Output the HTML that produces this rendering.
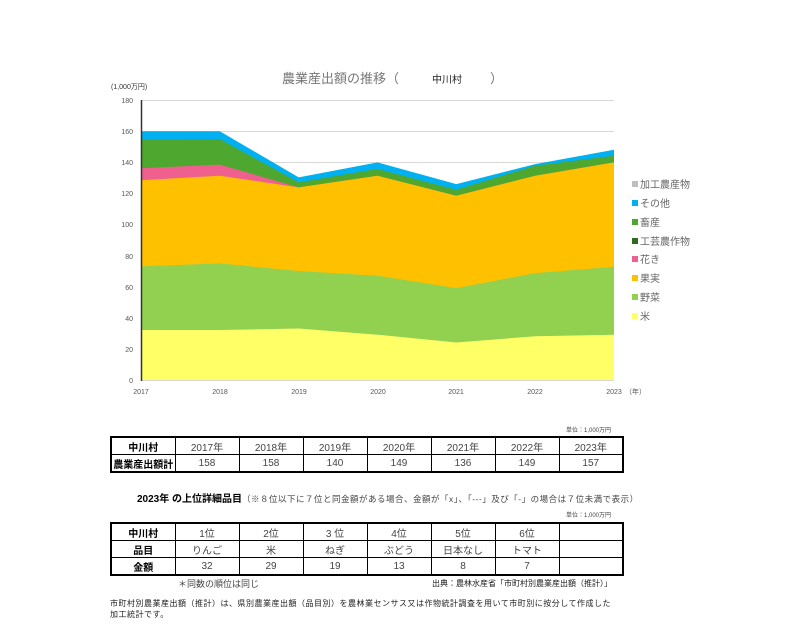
<!DOCTYPE html>
<html><head><meta charset="utf-8"><style>
body{margin:0;background:#fff;font-family:"Liberation Sans","Noto Sans CJK JP",sans-serif;}
.wrap{position:relative;width:794px;height:635px;overflow:hidden;}
.t{position:absolute;white-space:nowrap;color:#000;}
table{position:absolute;border-collapse:collapse;font-size:10px;table-layout:fixed;}
td{border:1px solid #000;text-align:center;height:16px;padding:0;color:#444;overflow:hidden;}
td.h{font-weight:bold;color:#000;}
table.o{border:2px solid #000;}
</style></head><body><div class="wrap">
<svg width="794" height="635" style="position:absolute;left:0;top:0" font-family="Liberation Sans, Noto Sans CJK JP, sans-serif">
<g stroke="#d9d9d9" stroke-width="1">
<line x1="141" x2="614" y1="100.5" y2="100.5"/><line x1="141" x2="614" y1="131.5" y2="131.5"/>
<line x1="141" x2="614" y1="162.5" y2="162.5"/><line x1="141" x2="614" y1="193.5" y2="193.5"/>
<line x1="141" x2="614" y1="224.5" y2="224.5"/><line x1="141" x2="614" y1="256.5" y2="256.5"/>
<line x1="141" x2="614" y1="287.5" y2="287.5"/><line x1="141" x2="614" y1="318.5" y2="318.5"/>
<line x1="141" x2="614" y1="349.5" y2="349.5"/><line x1="141" x2="614" y1="380.5" y2="380.5"/>
</g>
<polygon fill="#00B0F0" points="141,131.3 219.8,131.3 298.7,177.4 377.5,162.4 456.3,184.1 535.2,164.1 614,149.8 614,380 141,380"/>
<polygon fill="#4EA72E" points="141,139.6 219.8,139 298.7,182.4 377.5,168.9 456.3,189.7 535.2,165.7 614,155.7 614,380 141,380"/>
<polygon fill="#F0608F" points="141,168.3 219.8,164.6 298.7,187.4 377.5,175.7 456.3,195.8 535.2,175.7 614,162.4 614,380 141,380"/>
<polygon fill="#FFC000" points="141,180.2 219.8,175.7 298.7,187.4 377.5,175.7 456.3,195.8 535.2,175.7 614,162.4 614,380 141,380"/>
<polygon fill="#92D050" points="141,266.4 219.8,263.4 298.7,271 377.5,275.7 456.3,288.1 535.2,273.1 614,266.7 614,380 141,380"/>
<polygon fill="#FFFF66" points="141,330 219.8,330 298.7,328.5 377.5,334.7 456.3,342.5 535.2,336.3 614,334.7 614,380 141,380"/>
<line x1="141.5" y1="100" x2="141.5" y2="381" stroke="#333" stroke-width="1.5"/>
<g font-size="7" fill="#555" text-anchor="end">
<text x="133" y="103">180</text><text x="133" y="134">160</text><text x="133" y="165">140</text>
<text x="133" y="196">120</text><text x="133" y="227">100</text><text x="133" y="259">80</text>
<text x="133" y="290">60</text><text x="133" y="321">40</text><text x="133" y="352">20</text><text x="133" y="383">0</text>
</g>
<g font-size="7" fill="#555" text-anchor="middle">
<text x="141" y="394">2017</text><text x="220" y="394">2018</text><text x="299" y="394">2019</text>
<text x="378" y="394">2020</text><text x="456" y="394">2021</text><text x="535" y="394">2022</text><text x="614" y="394">2023</text>
</g>
<text x="625" y="394" font-size="7" fill="#555">（年）</text>
<text x="111" y="89" font-size="7" fill="#333">(1,000万円)</text>
<text x="282" y="83" font-size="13" fill="#777">農業産出額の推移（</text>
<text x="432" y="83" font-size="10" fill="#222">中川村</text>
<text x="490" y="83" font-size="13" fill="#777">）</text>
<g font-size="10" fill="#666">
<rect x="632" y="181" width="6" height="6" fill="#BFBFBF"/><text x="640" y="188">加工農産物</text>
<rect x="632" y="200" width="6" height="6" fill="#00B0F0"/><text x="640" y="207">その他</text>
<rect x="632" y="219" width="6" height="6" fill="#4EA72E"/><text x="640" y="226">畜産</text>
<rect x="632" y="238" width="6" height="6" fill="#2E6B1F"/><text x="640" y="245">工芸農作物</text>
<rect x="632" y="256" width="6" height="6" fill="#F0608F"/><text x="640" y="263">花き</text>
<rect x="632" y="275" width="6" height="6" fill="#FFC000"/><text x="640" y="282">果実</text>
<rect x="632" y="294" width="6" height="6" fill="#92D050"/><text x="640" y="301">野菜</text>
<rect x="632" y="313" width="6" height="6" fill="#FFFF66"/><text x="640" y="320">米</text>
</g>
</svg>
<div class="t" style="left:566px;top:425px;font-size:6px;color:#444">単位：1,000万円</div>
<table class="o" style="left:110px;top:436px;width:514px">
<colgroup><col style="width:64px"><col><col><col><col><col><col><col></colgroup>
<tr><td class="h">中川村</td><td>2017年</td><td>2018年</td><td>2019年</td><td>2020年</td><td>2021年</td><td>2022年</td><td>2023年</td></tr>
<tr><td class="h">農業産出額計</td><td>158</td><td>158</td><td>140</td><td>149</td><td>136</td><td>149</td><td>157</td></tr>
</table>
<div class="t" style="left:137px;top:490px;font-size:10px"><b>2023年 の上位詳細品目</b><span style="font-size:8.5px;color:#444;letter-spacing:0.5px">（※８位以下に７位と同金額がある場合、金額が「x」、「---」及び「-」の場合は７位未満で表示）</span></div>
<div class="t" style="left:566px;top:510px;font-size:6px;color:#444">単位：1,000万円</div>
<table class="o" style="left:110px;top:522px;width:514px">
<colgroup><col style="width:64px"><col><col><col><col><col><col><col></colgroup>
<tr><td class="h">中川村</td><td>1位</td><td>2位</td><td>3 位</td><td>4位</td><td>5位</td><td>6位</td><td></td></tr>
<tr><td class="h">品目</td><td>りんご</td><td>米</td><td>ねぎ</td><td>ぶどう</td><td>日本なし</td><td>トマト</td><td></td></tr>
<tr><td class="h">金額</td><td>32</td><td>29</td><td>19</td><td>13</td><td>8</td><td>7</td><td></td></tr>
</table>
<div class="t" style="left:178px;top:577px;font-size:9px;color:#444">＊同数の順位は同じ</div>
<div class="t" style="left:432px;top:578px;font-size:8px;color:#222">出典：農林水産省「市町村別農業産出額（推計）」</div>
<div class="t" style="left:110px;top:598px;font-size:8px;color:#222;line-height:11px;letter-spacing:0.5px">市町村別農業産出額（推計）は、県別農業産出額（品目別）を農林業センサス又は作物統計調査を用いて市町別に按分して作成した<br>加工統計です。</div>
</div></body></html>
